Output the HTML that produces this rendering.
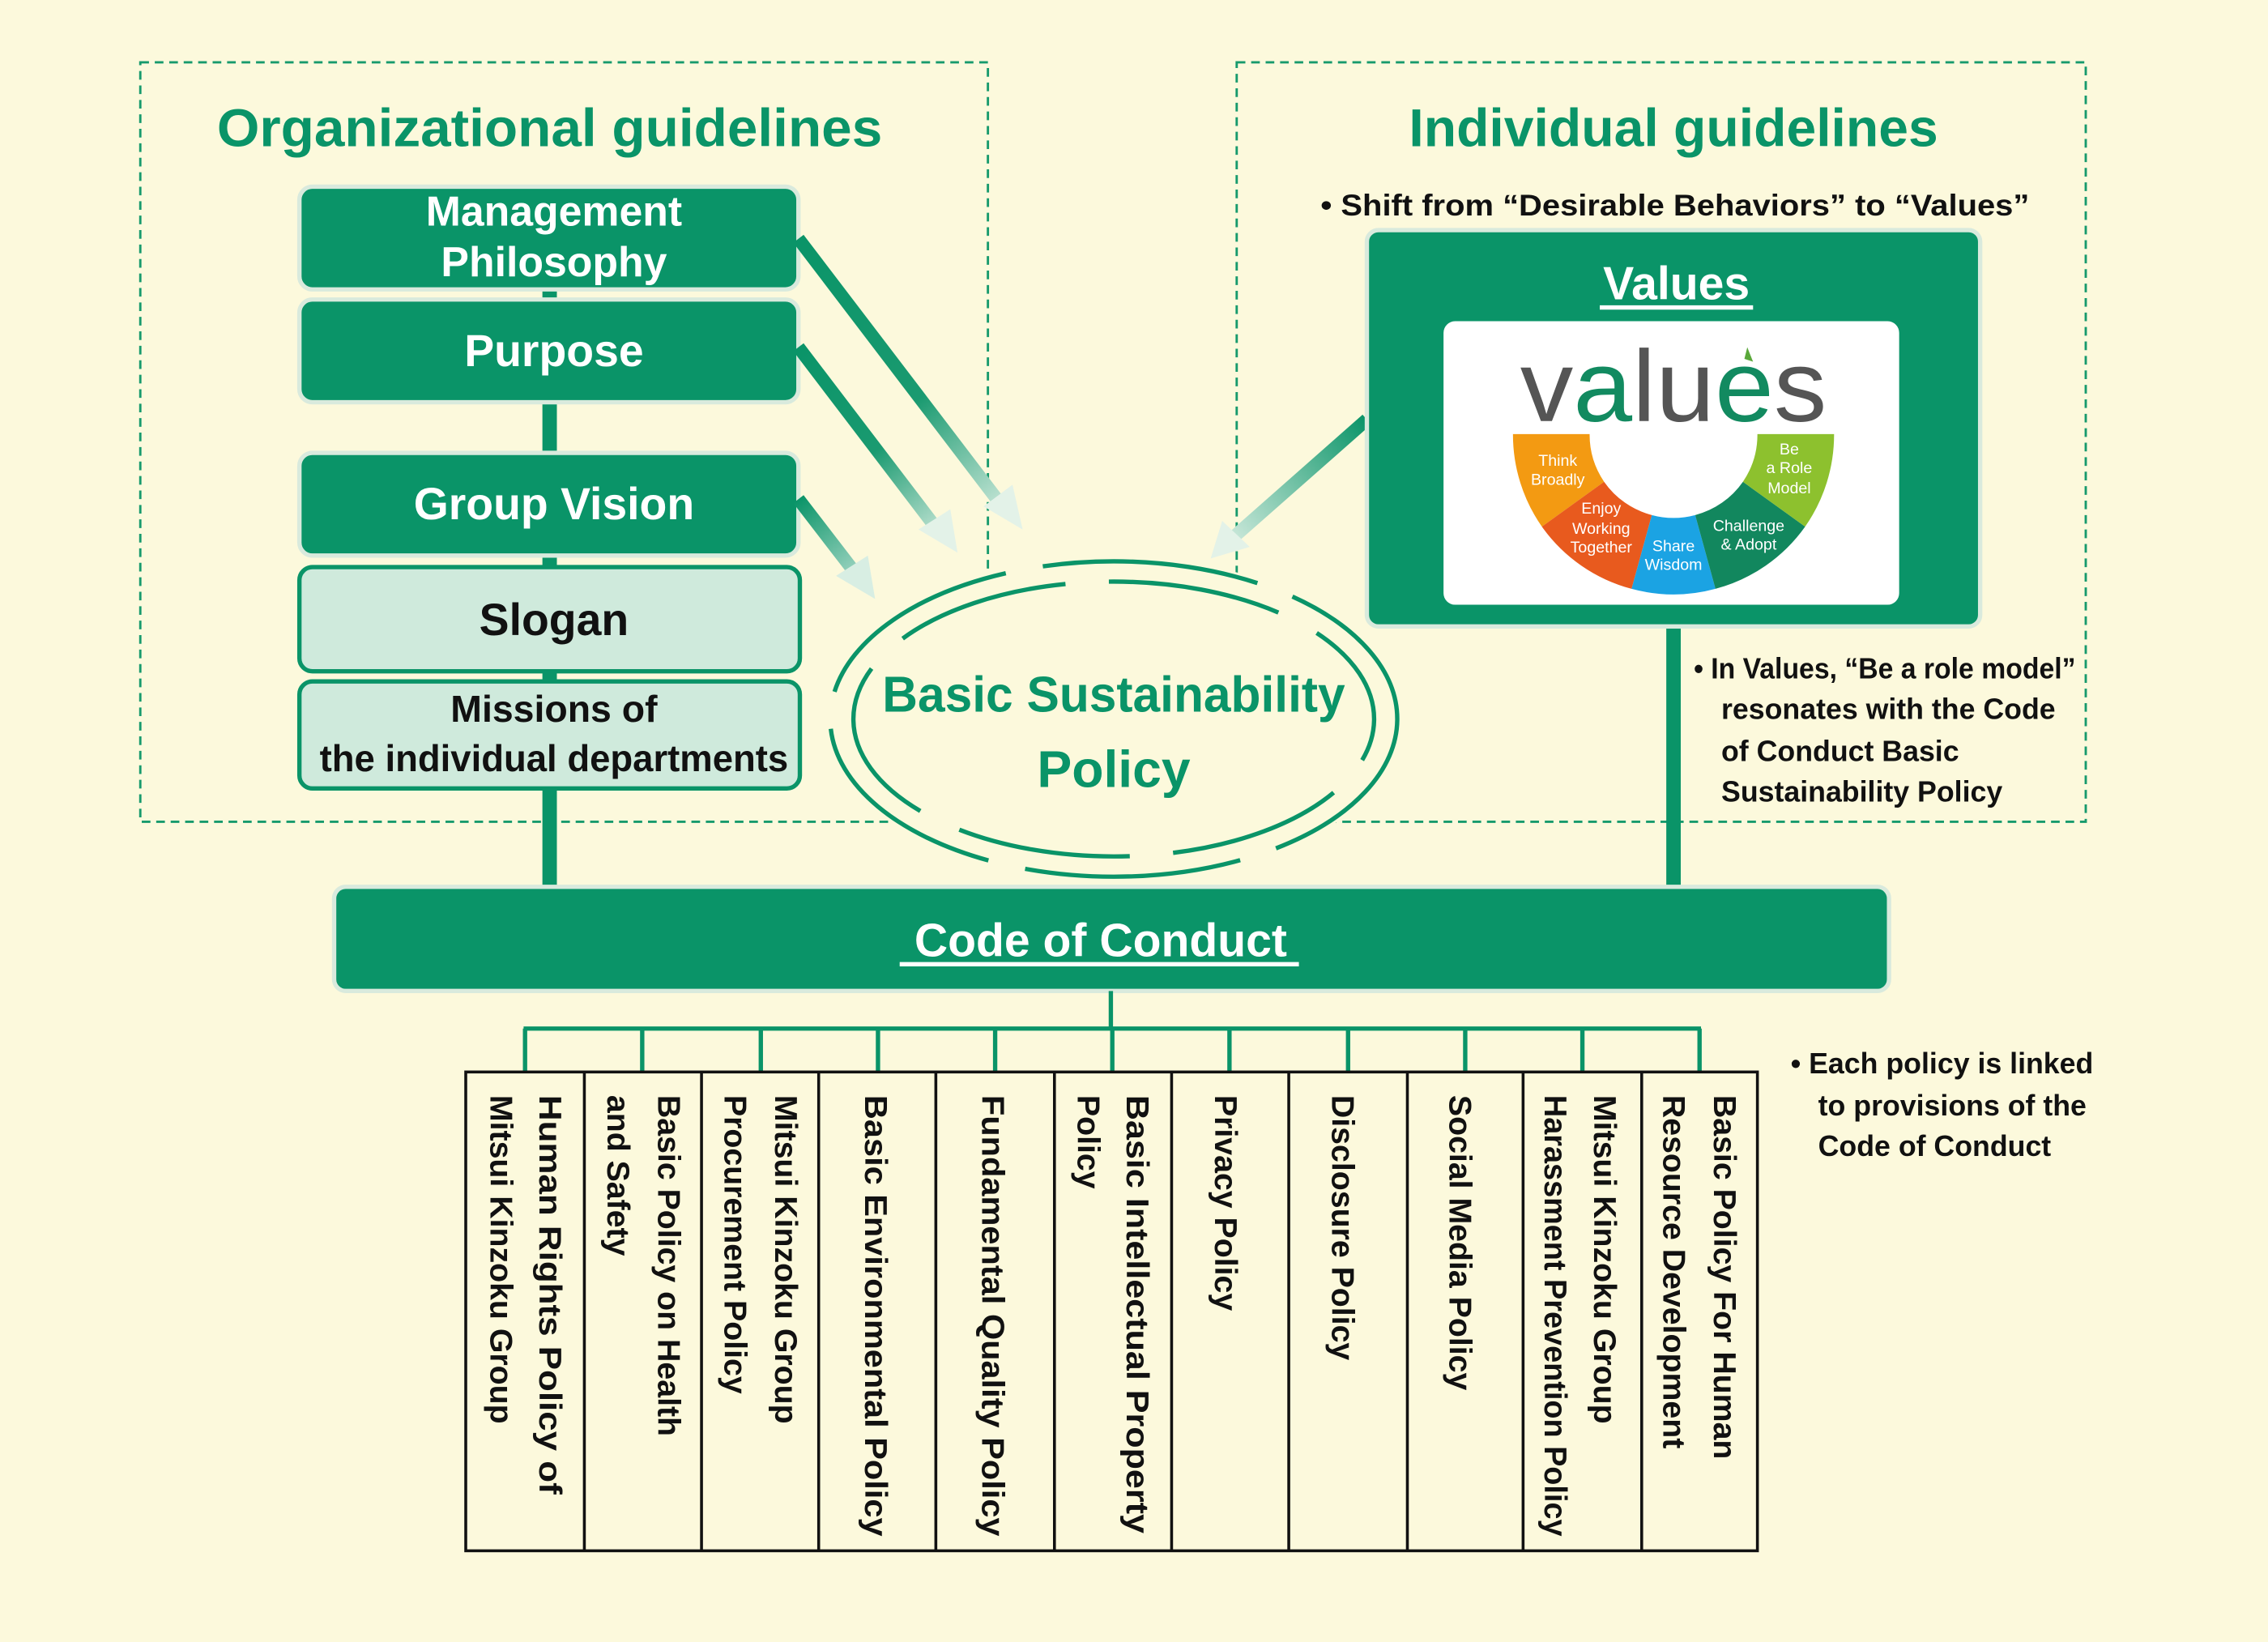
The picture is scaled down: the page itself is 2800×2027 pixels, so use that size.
<!DOCTYPE html>
<html><head><meta charset="utf-8"><style>
html,body{margin:0;padding:0;background:#fcf9dc;}
svg{display:block}
text{font-family:"Liberation Sans",Arial,sans-serif;}
</style></head><body>
<svg width="2800" height="2027" viewBox="0 0 1568 1135" xmlns="http://www.w3.org/2000/svg">
<defs>
<linearGradient id="g1" gradientUnits="userSpaceOnUse" x1="552" y1="165" x2="705" y2="365"><stop offset="0" stop-color="#0a9468"/><stop offset="0.55" stop-color="#1a9a70"/><stop offset="1" stop-color="#e6f4ea"/></linearGradient>
<linearGradient id="g2" gradientUnits="userSpaceOnUse" x1="552" y1="240" x2="660" y2="382"><stop offset="0" stop-color="#0a9468"/><stop offset="0.5" stop-color="#1a9a70"/><stop offset="1" stop-color="#e6f4ea"/></linearGradient>
<linearGradient id="g3" gradientUnits="userSpaceOnUse" x1="552" y1="345" x2="605" y2="415"><stop offset="0" stop-color="#0a9468"/><stop offset="1" stop-color="#cfeadf"/></linearGradient>
<linearGradient id="g4" gradientUnits="userSpaceOnUse" x1="945" y1="290" x2="838" y2="384"><stop offset="0" stop-color="#0a9468"/><stop offset="1" stop-color="#e6f4ea"/></linearGradient>
</defs>
<rect width="1568" height="1135" fill="#fcf9dc"/>
<rect x="97" y="43" width="586" height="525" fill="none" stroke="#179a6c" stroke-width="1.6" stroke-dasharray="6 4"/>
<rect x="855" y="43" width="587" height="525" fill="none" stroke="#179a6c" stroke-width="1.6" stroke-dasharray="6 4"/>
<text x="380" y="101" text-anchor="middle" font-size="37" font-weight="bold" fill="#0a9468" textLength="460" lengthAdjust="spacingAndGlyphs">Organizational guidelines</text>
<text x="1157" y="101" text-anchor="middle" font-size="37" font-weight="bold" fill="#0a9468">Individual guidelines</text>
<text x="913" y="149" font-size="21" font-weight="bold" fill="#111" textLength="490" lengthAdjust="spacingAndGlyphs">• Shift from “Desirable Behaviors” to “Values”</text>

<rect x="375" y="195" width="10" height="420" fill="#0a9468"/>
<rect x="1152" y="430" width="10" height="185" fill="#0a9468"/>

<g stroke="#d9eadd" stroke-width="3">
<rect x="207" y="129" width="345" height="71" rx="9" fill="#0a9468"/>
<rect x="207" y="207" width="345" height="71" rx="9" fill="#0a9468"/>
<rect x="207" y="313" width="345" height="71" rx="9" fill="#0a9468"/>
</g>
<g stroke="#0a9468" stroke-width="3">
<rect x="207" y="392" width="346" height="72" rx="9" fill="#cfeadc"/>
<rect x="207" y="471" width="346" height="74" rx="9" fill="#cfeadc"/>
</g>
<g font-weight="bold" text-anchor="middle">
<text x="383" y="156" font-size="29" fill="#fff">Management</text>
<text x="383" y="191" font-size="29" fill="#fff">Philosophy</text>
<text x="383" y="253" font-size="31" fill="#fff">Purpose</text>
<text x="383" y="359" font-size="31" fill="#fff">Group Vision</text>
<text x="383" y="439" font-size="31" fill="#111">Slogan</text>
<text x="383" y="499" font-size="26" fill="#111">Missions of</text>
<text x="383" y="533" font-size="26" fill="#111" textLength="324" lengthAdjust="spacingAndGlyphs">the individual departments</text>
</g>

<line x1="552" y1="165" x2="693" y2="350" stroke="url(#g1)" stroke-width="9"/>
<polygon points="707,366 680,350 700,335" fill="#e3f2e8"/>
<line x1="552" y1="240" x2="648" y2="366" stroke="url(#g2)" stroke-width="9"/>
<polygon points="662,382 635,366 657,352" fill="#e3f2e8"/>
<line x1="552" y1="345" x2="592" y2="397" stroke="url(#g3)" stroke-width="9"/>
<polygon points="605,414 578,398 600,384" fill="#d8eee3"/>
<line x1="945" y1="290" x2="852" y2="372" stroke="url(#g4)" stroke-width="9"/>
<polygon points="837,386 845,360 864,378" fill="#e3f2e8"/>

<ellipse cx="770" cy="497" rx="200" ry="112" fill="#fcf9dc"/>
<ellipse cx="770" cy="497" rx="196" ry="109" fill="none" stroke="#0a9468" stroke-width="3" stroke-dasharray="150 26" stroke-dashoffset="20"/>
<ellipse cx="770" cy="497" rx="180" ry="95" fill="none" stroke="#0a9468" stroke-width="3" stroke-dasharray="120 30" stroke-dashoffset="90"/>
<text x="770" y="492" text-anchor="middle" font-size="35" font-weight="bold" fill="#0a9468" textLength="320" lengthAdjust="spacingAndGlyphs">Basic Sustainability</text>
<text x="770" y="544" text-anchor="middle" font-size="36" font-weight="bold" fill="#0a9468">Policy</text>

<rect x="945" y="159" width="424" height="274" rx="8" fill="#0a9468" stroke="#d9eadd" stroke-width="3"/>
<text x="1159" y="207" text-anchor="middle" font-size="32" font-weight="bold" fill="#fff">Values</text>
<rect x="1106" y="211" width="106" height="3" fill="#fff"/>
<rect x="998" y="222" width="315" height="196" rx="8" fill="#fff"/>
<text x="1157" y="291" text-anchor="middle" font-size="70" fill="#555" textLength="212" lengthAdjust="spacingAndGlyphs">v<tspan fill="#128a60">a</tspan>lu<tspan fill="#128a60">e</tspan>s</text>
<path d="M1208 240 l4 10 -6 -2 z" fill="#5aa83a"/>
<g stroke="none">
<path d="M1046 300 A111 111 0 0 0 1066 364 L1109 333 A58 58 0 0 1 1099 300 Z" fill="#f39a12"/>
<path d="M1066 364 A111 111 0 0 0 1128 407 L1142 356 A58 58 0 0 1 1109 333 Z" fill="#e85a1e"/>
<path d="M1128 407 A111 111 0 0 0 1186 407 L1172 356 A58 58 0 0 1 1142 356 Z" fill="#1ba3e3"/>
<path d="M1186 407 A111 111 0 0 0 1248 364 L1205 333 A58 58 0 0 1 1172 356 Z" fill="#12875e"/>
<path d="M1248 364 A111 111 0 0 0 1268 300 L1215 300 A58 58 0 0 1 1205 333 Z" fill="#8dc12e"/>
</g>
<g font-size="11" fill="#fff" text-anchor="middle">
<text x="1077" y="322">Think</text><text x="1077" y="335">Broadly</text>
<text x="1107" y="355">Enjoy</text><text x="1107" y="369">Working</text><text x="1107" y="382">Together</text>
<text x="1157" y="381">Share</text><text x="1157" y="394">Wisdom</text>
<text x="1209" y="367">Challenge</text><text x="1209" y="380">&amp; Adopt</text>
<text x="1237" y="314">Be</text><text x="1237" y="327">a Role</text><text x="1237" y="341">Model</text>
</g>

<g font-size="20" fill="#111" font-weight="bold">
<text x="1171" y="469" textLength="264" lengthAdjust="spacingAndGlyphs">• In Values, “Be a role model”</text>
<text x="1190" y="497">resonates with the Code</text>
<text x="1190" y="526">of Conduct Basic</text>
<text x="1190" y="554">Sustainability Policy</text>
<text x="1238" y="742">• Each policy is linked</text>
<text x="1257" y="771">to provisions of the</text>
<text x="1257" y="799">Code of Conduct</text>
</g>

<rect x="231" y="613" width="1075" height="72" rx="8" fill="#0a9468" stroke="#d9eadd" stroke-width="3"/>
<text x="761" y="661" text-anchor="middle" font-size="32" font-weight="bold" fill="#fff">Code of Conduct</text>
<rect x="622" y="665" width="276" height="3" fill="#fff"/>

<g stroke="#0a9468" stroke-width="3">
<line x1="768" y1="685" x2="768" y2="711"/>
<line x1="362" y1="711" x2="1176" y2="711"/>
<line x1="363" y1="711" x2="363" y2="741"/><line x1="444" y1="711" x2="444" y2="741"/><line x1="526" y1="711" x2="526" y2="741"/><line x1="607" y1="711" x2="607" y2="741"/><line x1="688" y1="711" x2="688" y2="741"/><line x1="769" y1="711" x2="769" y2="741"/><line x1="850" y1="711" x2="850" y2="741"/><line x1="932" y1="711" x2="932" y2="741"/><line x1="1013" y1="711" x2="1013" y2="741"/><line x1="1094" y1="711" x2="1094" y2="741"/><line x1="1175" y1="711" x2="1175" y2="741"/>
</g>
<g stroke="#111" stroke-width="2" fill="none">
<rect x="322" y="741" width="893" height="331"/>
<line x1="404" y1="741" x2="404" y2="1072"/><line x1="485" y1="741" x2="485" y2="1072"/><line x1="566" y1="741" x2="566" y2="1072"/><line x1="647" y1="741" x2="647" y2="1072"/><line x1="729" y1="741" x2="729" y2="1072"/><line x1="810" y1="741" x2="810" y2="1072"/><line x1="891" y1="741" x2="891" y2="1072"/><line x1="973" y1="741" x2="973" y2="1072"/><line x1="1053" y1="741" x2="1053" y2="1072"/><line x1="1135" y1="741" x2="1135" y2="1072"/>
</g>
<g font-size="22" font-weight="bold" fill="#111">
<text transform="translate(373,757) rotate(90)" textLength="276" lengthAdjust="spacingAndGlyphs">Human Rights Policy of</text>
<text transform="translate(339,757) rotate(90)">Mitsui Kinzoku Group</text>
<text transform="translate(455,757) rotate(90)">Basic Policy on Health</text>
<text transform="translate(420,757) rotate(90)">and Safety</text>
<text transform="translate(536,757) rotate(90)">Mitsui Kinzoku Group</text>
<text transform="translate(501,757) rotate(90)">Procurement Policy</text>
<text transform="translate(598,757) rotate(90)" textLength="305" lengthAdjust="spacingAndGlyphs">Basic Environmental Policy</text>
<text transform="translate(679,757) rotate(90)" textLength="305" lengthAdjust="spacingAndGlyphs">Fundamental Quality Policy</text>
<text transform="translate(779,757) rotate(90)" textLength="303" lengthAdjust="spacingAndGlyphs">Basic Intellectual Property</text>
<text transform="translate(745,757) rotate(90)">Policy</text>
<text transform="translate(840,757) rotate(90)">Privacy Policy</text>
<text transform="translate(921,757) rotate(90)">Disclosure Policy</text>
<text transform="translate(1002,757) rotate(90)">Social Media Policy</text>
<text transform="translate(1102,757) rotate(90)">Mitsui Kinzoku Group</text>
<text transform="translate(1068,757) rotate(90)" textLength="305" lengthAdjust="spacingAndGlyphs">Harassment Prevention Policy</text>
<text transform="translate(1185,757) rotate(90)">Basic Policy For Human</text>
<text transform="translate(1150,757) rotate(90)">Resource Development</text>
</g>
</svg>
</body></html>
